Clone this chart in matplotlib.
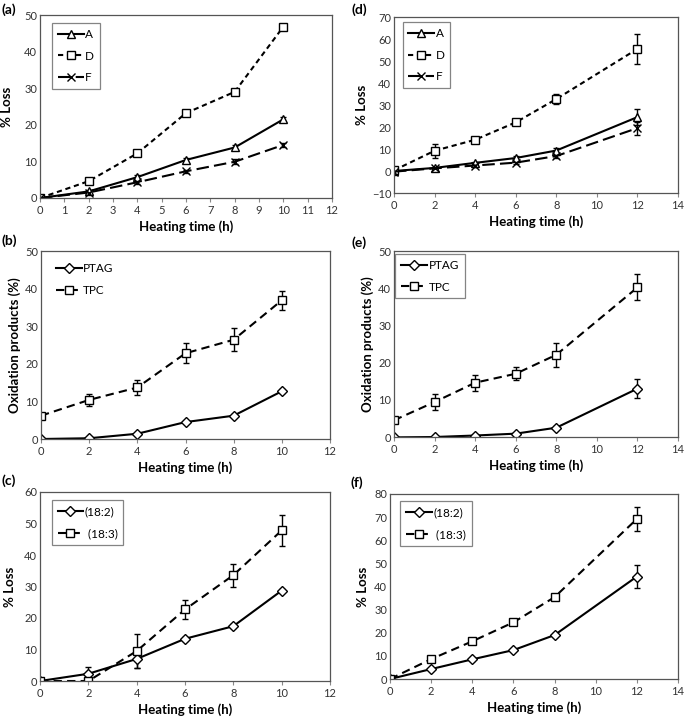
import numpy as np
import matplotlib
matplotlib.use("Agg")
import matplotlib.pyplot as plt

plt.rcParams['font.family'] = ['Lato', 'DejaVu Sans']

# ---- data ----
t_left = [0, 2, 4, 6, 8, 10]
t_right = [0, 2, 4, 6, 8, 12]

# (a) % loss of A, D, F
a_A = [0, 1.8, 5.7, 10.4, 13.8, 21.5]
a_A_err = [0.3, 0.4, 0.5, 0.5, 0.8, 0.6]
a_D = [0, 4.6, 12.2, 23.2, 29.0, 46.8]
a_D_err = [0.3, 0.5, 0.6, 0.6, 0.8, 0.7]
a_F = [0, 1.5, 4.3, 7.3, 9.9, 14.5]
a_F_err = [0.3, 0.4, 0.4, 0.4, 0.7, 0.5]

# (d) % loss of A, D, F
d_A = [0, 1.4, 3.7, 5.9, 9.3, 24.5]
d_A_err = [0.5, 0.5, 0.6, 0.7, 1.0, 3.7]
d_D = [0.3, 9.2, 14.2, 22.1, 32.7, 55.5]
d_D_err = [0.8, 3.3, 1.0, 1.0, 2.2, 7.0]
d_F = [-0.3, 1.2, 2.5, 3.8, 6.8, 19.5]
d_F_err = [0.5, 0.5, 0.5, 0.6, 0.8, 3.0]

# (b) oxidation products
b_PTAG = [0, 0.2, 1.4, 4.5, 6.2, 12.7]
b_PTAG_err = [0.2, 0.2, 0.3, 0.3, 0.4, 0.5]
b_TPC = [6.2, 10.4, 13.7, 22.8, 26.4, 36.9]
b_TPC_err = [0.4, 1.5, 2.1, 2.7, 3.1, 2.5]

# (e) oxidation products
e_PTAG = [-0.1, 0, 0.4, 0.9, 2.5, 13.0]
e_PTAG_err = [0.2, 0.2, 0.3, 0.3, 0.4, 2.5]
e_TPC = [4.5, 9.4, 14.6, 17.0, 22.1, 40.2]
e_TPC_err = [0.4, 2.2, 2.1, 1.8, 3.2, 3.5]

# (c) fatty acid loss
c_182 = [0, 2.3, 7.0, 13.4, 17.4, 28.7]
c_182_err = [0.3, 2.0, 3.0, 0.6, 0.6, 0.6]
c_183 = [0, 0, 9.5, 22.7, 33.6, 47.8]
c_183_err = [0.3, 0.3, 5.4, 3.0, 3.7, 4.8]

# (f) fatty acid loss
f_182 = [0, 4.3, 8.5, 12.5, 19.0, 44.3]
f_182_err = [0.4, 0.5, 0.5, 0.6, 0.7, 5.0]
f_183 = [0, 8.6, 16.3, 24.5, 35.4, 69.2]
f_183_err = [0.4, 0.6, 0.6, 0.8, 0.8, 5.3]

W, H = 685, 718
fig = plt.figure(figsize=(W / 100, H / 100), dpi=100)


def make_ax(l, r, t, b):
    ax = fig.add_axes([l / W, 1 - b / H, (r - l) / W, (b - t) / H])
    for s in ax.spines.values():
        s.set_color('#555555')
        s.set_linewidth(0.9)
    ax.tick_params(labelsize=8, colors='#333333', length=3, width=0.8, pad=2)
    ax.tick_params(axis='x', color='#888888')
    ax.tick_params(axis='y', length=0)
    return ax


solid = dict(color='black', linestyle='-', lw=1.5)
shortdash = dict(color='black', linestyle=(0, (2.5, 1.8)), lw=1.5)
longdash = dict(color='black', linestyle=(0, (6, 2.5)), lw=1.5)
dashed = dict(color='black', linestyle=(0, (4, 2.5)), lw=1.5)


def series(ax, x, y, err, style, marker, ms, label):
    ax.errorbar(x, y, yerr=err, marker=marker, ms=ms, mfc='white', mec='black',
                mew=1.0, ecolor='black', elinewidth=1.0, capsize=2, capthick=1.0,
                label=label, **style)


def finish(ax, xmax, xstep, ymin, ymax, ystep, ylabel, ylabpad=3):
    ax.set_xlim(0, xmax)
    ax.set_xticks(np.arange(0, xmax + 0.1, xstep))
    ax.set_ylim(ymin, ymax)
    ax.set_yticks(np.arange(ymin, ymax + 0.1, ystep))
    ax.set_xlabel('Heating time (h)', fontsize=9.5, fontweight='bold', labelpad=3)
    ax.set_ylabel(ylabel, fontsize=9.5, fontweight='bold', labelpad=ylabpad)


def legend(ax, frame=True, loc=(0.04, 0.6)):
    handles, labels = ax.get_legend_handles_labels()
    handles = [h[0] for h in handles]
    lg = ax.legend(handles, labels, loc='lower left', bbox_to_anchor=loc,
                   fontsize=8.5, frameon=frame, fancybox=False, edgecolor='#666666',
                   handlelength=2.2, handletextpad=0.1, labelspacing=0.9,
                   borderpad=0.5, borderaxespad=0)
    lg.get_frame().set_linewidth(0.9)
    return lg


# (a)
ax = make_ax(40, 332, 15, 198)
series(ax, t_left, a_A, a_A_err, solid, '^', 6, 'A')
series(ax, t_left, a_D, a_D_err, shortdash, 's', 6, 'D')
series(ax, t_left, a_F, a_F_err, longdash, 'x', 6, 'F')
finish(ax, 12, 1, 0, 50, 10, '% Loss', 8)
legend(ax, loc=(0.04, 0.595))
fig.text(2 / W, 1 - 14 / H, '(a)', fontsize=10, fontweight='bold')

# (d)
ax = make_ax(394, 678, 17, 193)
series(ax, t_right, d_A, d_A_err, solid, '^', 6, 'A')
series(ax, t_right, d_D, d_D_err, shortdash, 's', 6, 'D')
series(ax, t_right, d_F, d_F_err, longdash, 'x', 6, 'F')
finish(ax, 14, 2, -10, 70, 10, '% Loss', 3)
legend(ax, loc=(0.03, 0.595))
fig.text(352 / W, 1 - 14 / H, '(d)', fontsize=10, fontweight='bold')

# (b)
ax = make_ax(41, 330, 251, 439)
series(ax, t_left, b_PTAG, b_PTAG_err, solid, 'D', 5.5, 'PTAG')
series(ax, t_left, b_TPC, b_TPC_err, dashed, 's', 6, 'TPC')
finish(ax, 12, 2, 0, 50, 10, 'Oxidation products (%)', 3)
legend(ax, frame=False, loc=(0.03, 0.73))
fig.text(2 / W, 1 - 245 / H, '(b)', fontsize=10, fontweight='bold')

# (e)
ax = make_ax(394, 678, 251, 437)
series(ax, t_right, e_PTAG, e_PTAG_err, solid, 'D', 5.5, 'PTAG')
series(ax, t_right, e_TPC, e_TPC_err, dashed, 's', 6, 'TPC')
finish(ax, 14, 2, 0, 50, 10, 'Oxidation products (%)', 3)
legend(ax, loc=(0.005, 0.745))
fig.text(352 / W, 1 - 247 / H, '(e)', fontsize=10, fontweight='bold')

# (c)
ax = make_ax(40, 330, 492, 681)
series(ax, t_left, c_182, c_182_err, solid, 'D', 5.5, '(18:2)')
series(ax, t_left, c_183, c_183_err, dashed, 's', 6, ' (18:3)')
finish(ax, 12, 2, 0, 60, 10, '% Loss', 6)
legend(ax, loc=(0.04, 0.72))
fig.text(2 / W, 1 - 485 / H, '(c)', fontsize=10, fontweight='bold')

# (f)
ax = make_ax(390, 678, 494, 679)
series(ax, t_right, f_182, f_182_err, solid, 'D', 5.5, '(18:2)')
series(ax, t_right, f_183, f_183_err, dashed, 's', 6, ' (18:3)')
finish(ax, 14, 2, 0, 80, 10, '% Loss', 4)
legend(ax, loc=(0.035, 0.72))
fig.text(350 / W, 1 - 487 / H, '(f)', fontsize=10, fontweight='bold')

fig.savefig('out.png', dpi=100, facecolor='white')
